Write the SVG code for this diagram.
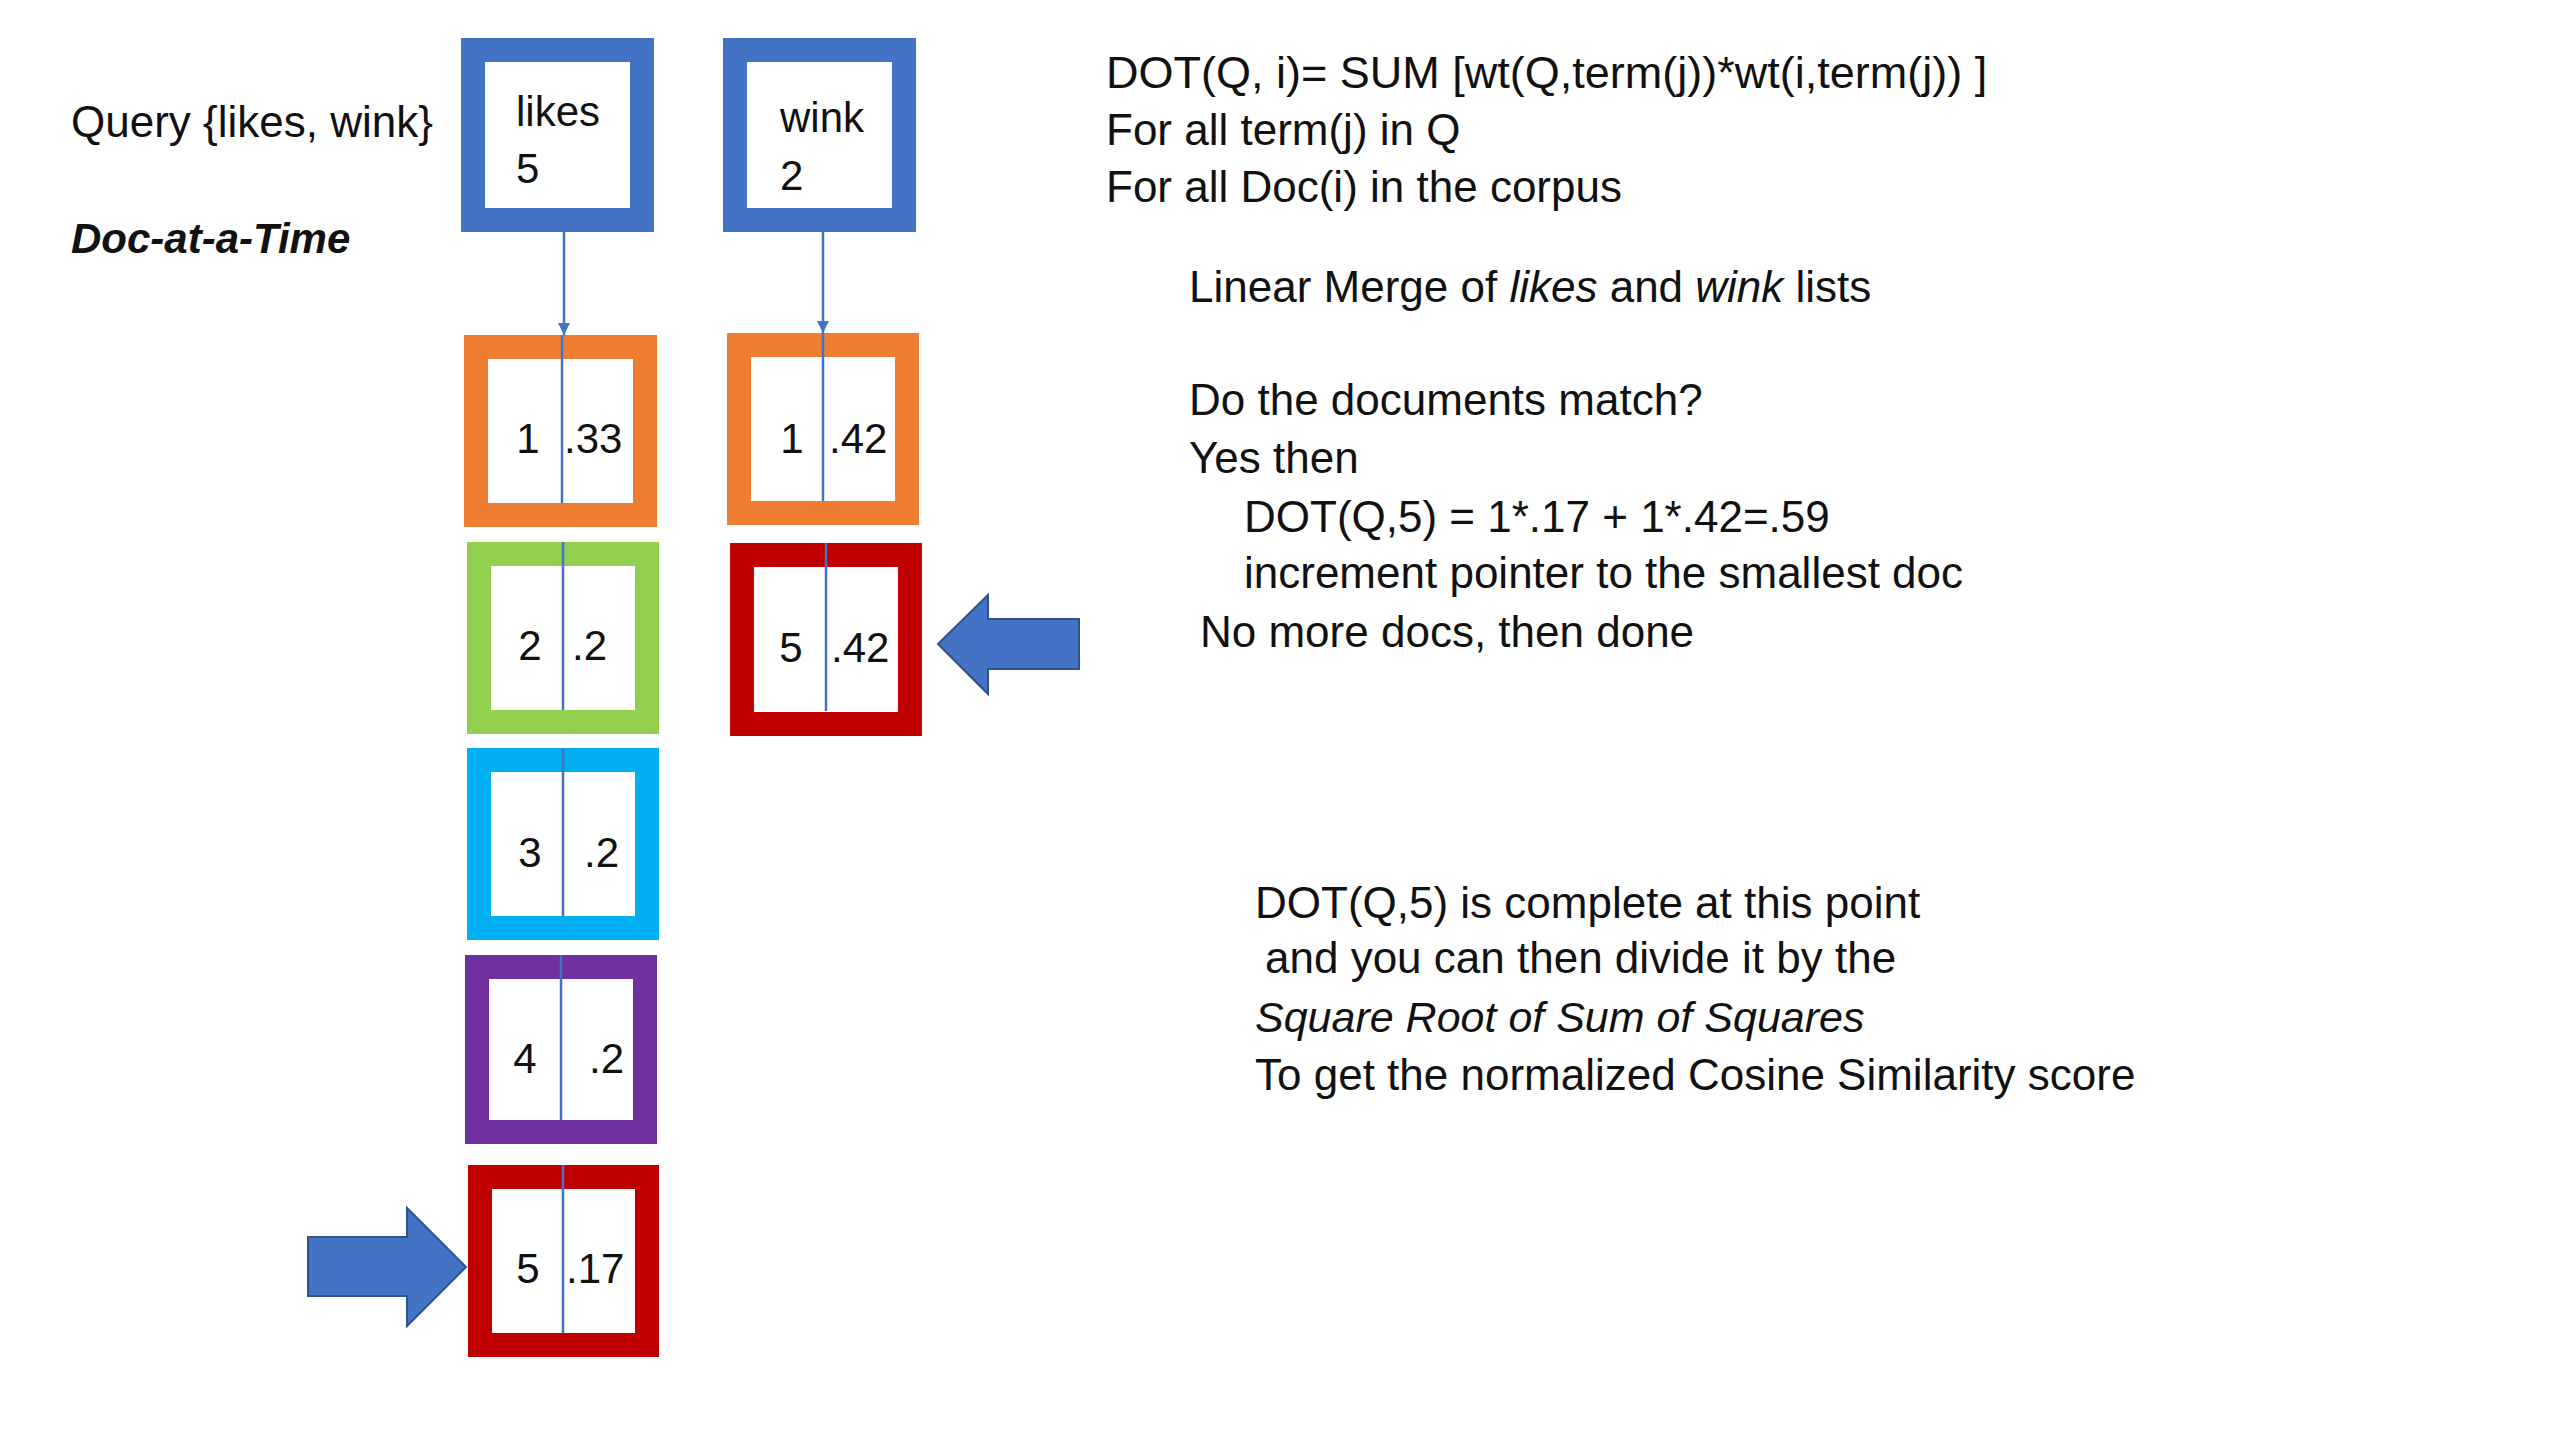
<svg xmlns="http://www.w3.org/2000/svg" width="2560" height="1440" viewBox="0 0 2560 1440">
<defs>
<style>
.t{font-family:"Liberation Sans",Arial,sans-serif;font-size:44px;fill:#111}
.bt{font-family:"Liberation Sans",Arial,sans-serif;font-size:42px;fill:#111}
.mid{text-anchor:middle}
.it{font-style:italic}
.box{fill:#fff;stroke-width:24}
.div{stroke:#4472C4;stroke-width:2.5}
.conn{stroke:#4472C4;stroke-width:2.5;fill:none}
.bigarrow{fill:#4472C4;stroke:#2F528F;stroke-width:2}
</style>
<marker id="ah" viewBox="0 0 12 12" refX="12" refY="6" markerWidth="12" markerHeight="12" markerUnits="userSpaceOnUse" orient="auto">
<path d="M0,0 L12,6 L0,12 Z" fill="#4472C4"/>
</marker>
</defs>
<rect width="2560" height="1440" fill="#fff"/>

<text class="t" x="71" y="137">Query {likes, wink}</text>
<text class="t it" x="71" y="253" style="font-weight:bold;font-size:42px">Doc-at-a-Time</text>

<g id="likes">
<rect class="box" x="473" y="50" width="169" height="170" stroke="#4472C4" stroke-width="25"/>
<text class="bt" x="516" y="126">likes</text>
<text class="bt" x="516" y="183">5</text>
</g>
<g id="wink">
<rect class="box" x="735" y="50" width="169" height="170" stroke="#4472C4" stroke-width="25"/>
<text class="bt" x="780" y="132">wink</text>
<text class="bt" x="780" y="190">2</text>
</g>

<g id="likes-1">
<rect class="box" x="476" y="347" width="169" height="168" stroke="#ED7D31"/>
<line class="div" x1="562" y1="335" x2="562" y2="503"/>
<text class="bt mid" x="528" y="453">1</text>
<text class="bt" x="564" y="453">.33</text>
</g>
<g id="likes-2">
<rect class="box" x="479" y="554" width="168" height="168" stroke="#92D050"/>
<line class="div" x1="563" y1="542" x2="563" y2="710"/>
<text class="bt mid" x="530" y="660">2</text>
<text class="bt" x="572" y="660">.2</text>
</g>
<g id="likes-3">
<rect class="box" x="479" y="760" width="168" height="168" stroke="#00B0F0"/>
<line class="div" x1="563" y1="748" x2="563" y2="916"/>
<text class="bt mid" x="530" y="867">3</text>
<text class="bt" x="584" y="867">.2</text>
</g>
<g id="likes-4">
<rect class="box" x="477" y="967" width="168" height="165" stroke="#7030A0"/>
<line class="div" x1="561" y1="955" x2="561" y2="1120"/>
<text class="bt mid" x="525" y="1073">4</text>
<text class="bt" x="589" y="1073">.2</text>
</g>
<g id="likes-5">
<rect class="box" x="480" y="1177" width="167" height="168" stroke="#C00000"/>
<line class="div" x1="563" y1="1165" x2="563" y2="1333"/>
<text class="bt mid" x="528" y="1283">5</text>
<text class="bt" x="566" y="1283">.17</text>
</g>

<g id="wink-1">
<rect class="box" x="739" y="345" width="168" height="168" stroke="#ED7D31"/>
<line class="div" x1="823" y1="333" x2="823" y2="501"/>
<text class="bt mid" x="792" y="453">1</text>
<text class="bt" x="829" y="453">.42</text>
</g>
<g id="wink-5">
<rect class="box" x="742" y="555" width="168" height="169" stroke="#C00000"/>
<line class="div" x1="826" y1="543" x2="826" y2="711"/>
<text class="bt mid" x="791" y="662">5</text>
<text class="bt" x="831" y="662">.42</text>
</g>

<g id="connectors">
<line class="conn" x1="564" y1="232" x2="564" y2="335" marker-end="url(#ah)"/>
<line class="conn" x1="823" y1="232" x2="823" y2="333" marker-end="url(#ah)"/>
</g>

<g id="pointer-likes">
<path class="bigarrow" d="M308,1237 L407,1237 L407,1208 L466,1267 L407,1326 L407,1296 L308,1296 Z"/>
</g>
<g id="pointer-wink">
<path class="bigarrow" d="M1079,619 L988,619 L988,595 L938,644 L988,694 L988,669 L1079,669 Z"/>
</g>

<g id="notes">
<text class="t" x="1106" y="88" style="font-size:45px">DOT(Q, i)= SUM [wt(Q,term(j))*wt(i,term(j)) ]</text>
<text class="t" x="1106" y="145">For all term(j) in Q</text>
<text class="t" x="1106" y="202">For all Doc(i) in the corpus</text>
<text class="t" x="1189" y="302">Linear Merge of <tspan class="it">likes</tspan> and <tspan class="it">wink</tspan> lists</text>
<text class="t" x="1189" y="415">Do the documents match?</text>
<text class="t" x="1189" y="473">Yes then</text>
<text class="t" x="1244" y="532">DOT(Q,5) = 1*.17 + 1*.42=.59</text>
<text class="t" x="1244" y="588">increment pointer to the smallest doc</text>
<text class="t" x="1200" y="647">No more docs, then done</text>
<text class="t" x="1255" y="918">DOT(Q,5) is complete at this point</text>
<text class="t" x="1265" y="973">and you can then divide it by the</text>
<text class="t it" x="1255" y="1032" style="font-size:43px">Square Root of Sum of Squares</text>
<text class="t" x="1255" y="1090">To get the normalized Cosine Similarity score</text>
</g>
</svg>
